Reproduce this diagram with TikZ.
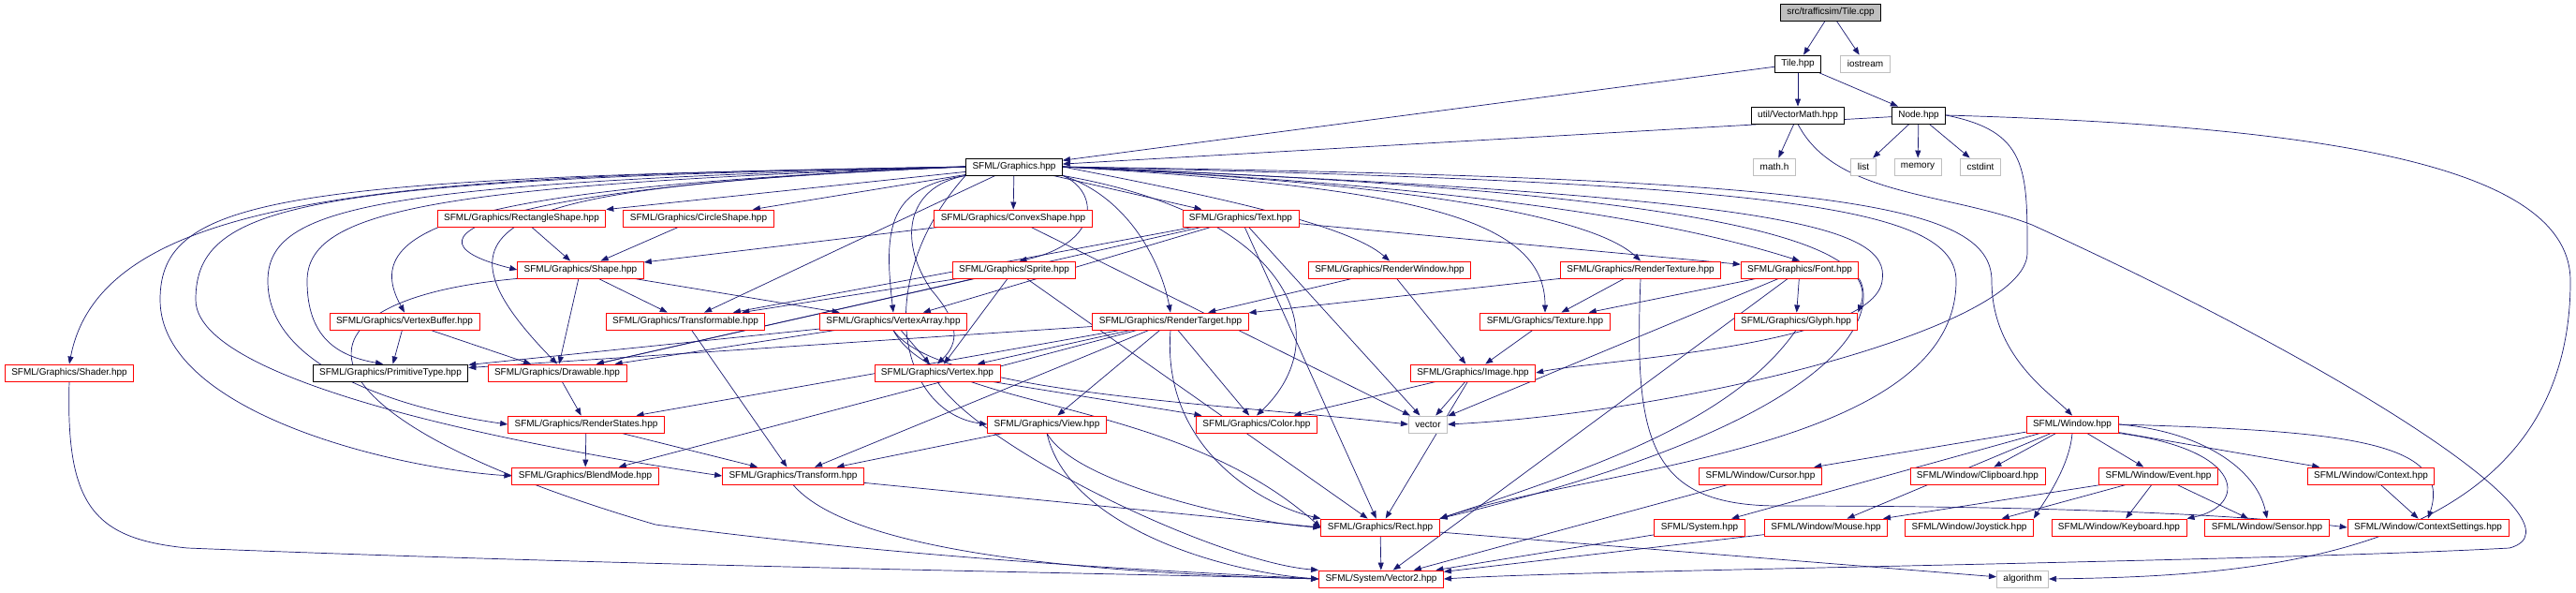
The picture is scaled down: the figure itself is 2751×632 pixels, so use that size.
\documentclass[tikz,border=0pt]{standalone}
\usepackage{fontspec}
\setmainfont{Liberation Sans}
\usetikzlibrary{arrows.meta,backgrounds}
\definecolor{edgeblue}{HTML}{191970}
\definecolor{sysgray}{HTML}{BFBFBF}

\begin{document}
\begin{tikzpicture}[x=1pt, y=-1pt,
    file/.style={draw=red, fill=white, line width=0.9pt, font=\fontsize{10}{12}\selectfont,
        inner xsep=7pt, inner ysep=0pt, minimum height=18pt},
    docfile/.style={file, draw=black},
    sysfile/.style={file, draw=sysgray},
    rootfile/.style={file, draw=black, fill=sysgray},
    inc/.style={draw=edgeblue, line width=0.7pt, -{Triangle[length=8pt, width=6pt]}}]
    \useasboundingbox (0,0) rectangle (2751,632);

    % Nodes
    \node[rootfile] (tilecpp) at (1955,13) {src/trafficsim/Tile.cpp};

    \node[docfile] (tilehpp) at (1920,68) {Tile.hpp};
    \node[sysfile] (iostream) at (1992,68) {iostream};

    \node[docfile] (vecmath) at (1920,123) {util/VectorMath.hpp};
    \node[docfile] (nodehpp) at (2049,123) {Node.hpp};

    \node[docfile] (graphics) at (1083,178) {SFML/Graphics.hpp};
    \node[sysfile] (mathh) at (1895,178) {math.h};
    \node[sysfile] (list) at (1990,178) {list};
    \node[sysfile] (memory) at (2048,178) {memory};
    \node[sysfile] (cstdint) at (2115,178) {cstdint};

    \node[file] (rectshape) at (557,233) {SFML/Graphics/RectangleShape.hpp};
    \node[file] (circshape) at (746,233) {SFML/Graphics/CircleShape.hpp};
    \node[file] (convshape) at (1082,233) {SFML/Graphics/ConvexShape.hpp};
    \node[file] (text) at (1325,233) {SFML/Graphics/Text.hpp};

    \node[file] (shape) at (620,288) {SFML/Graphics/Shape.hpp};
    \node[file] (sprite) at (1083,288) {SFML/Graphics/Sprite.hpp};
    \node[file] (renderwin) at (1484,288) {SFML/Graphics/RenderWindow.hpp};
    \node[file] (rendertex) at (1752,288) {SFML/Graphics/RenderTexture.hpp};
    \node[file] (font) at (1922,288) {SFML/Graphics/Font.hpp};

    \node[file] (vbuffer) at (432,343) {SFML/Graphics/VertexBuffer.hpp};
    \node[file] (transfable) at (732,343) {SFML/Graphics/Transformable.hpp};
    \node[file] (varray) at (954,343) {SFML/Graphics/VertexArray.hpp};
    \node[file] (rtarget) at (1250,343) {SFML/Graphics/RenderTarget.hpp};
    \node[file] (texture) at (1650,343) {SFML/Graphics/Texture.hpp};
    \node[file] (glyph) at (1918,343) {SFML/Graphics/Glyph.hpp};

    \node[file] (shader) at (74,398) {SFML/Graphics/Shader.hpp};
    \node[docfile] (primtype) at (417,398) {SFML/Graphics/PrimitiveType.hpp};
    \node[file] (drawable) at (595,398) {SFML/Graphics/Drawable.hpp};
    \node[file] (vertex) at (1001,398) {SFML/Graphics/Vertex.hpp};
    \node[file] (image) at (1573,398) {SFML/Graphics/Image.hpp};

    \node[file] (rstates) at (626,453) {SFML/Graphics/RenderStates.hpp};
    \node[file] (view) at (1118,453) {SFML/Graphics/View.hpp};
    \node[file] (color) at (1342,453) {SFML/Graphics/Color.hpp};
    \node[sysfile] (vector) at (1525,453) {vector};
    \node[file] (window) at (2213,453) {SFML/Window.hpp};

    \node[file] (blend) at (625,508) {SFML/Graphics/BlendMode.hpp};
    \node[file] (transform) at (847,508) {SFML/Graphics/Transform.hpp};
    \node[file] (cursor) at (1880,508) {SFML/Window/Cursor.hpp};
    \node[file] (clipboard) at (2112,508) {SFML/Window/Clipboard.hpp};
    \node[file] (event) at (2305,508) {SFML/Window/Event.hpp};
    \node[file] (context) at (2532,508) {SFML/Window/Context.hpp};

    \node[file] (rect) at (1474,563) {SFML/Graphics/Rect.hpp};
    \node[file] (system) at (1815,563) {SFML/System.hpp};
    \node[file] (mouse) at (1950,563) {SFML/Window/Mouse.hpp};
    \node[file] (joystick) at (2103,563) {SFML/Window/Joystick.hpp};
    \node[file] (keyboard) at (2263,563) {SFML/Window/Keyboard.hpp};
    \node[file] (sensor) at (2421,563) {SFML/Window/Sensor.hpp};
    \node[file] (ctxset) at (2593,563) {SFML/Window/ContextSettings.hpp};

    \node[file] (vector2) at (1475,618) {SFML/System/Vector2.hpp};
    \node[sysfile] (algorithm) at (2160,618) {algorithm};

    \begin{scope}[on background layer]
    % Tile.cpp, Tile.hpp, Node.hpp, VectorMath.hpp
    \draw[inc] (tilecpp) -- (tilehpp);
    \draw[inc] (tilecpp) -- (iostream);
    \draw[inc] (tilehpp) -- (graphics);
    \draw[inc] (tilehpp) -- (vecmath);
    \draw[inc] (tilehpp) -- (nodehpp);
    \draw[inc] (vecmath) -- (mathh);
    \draw[inc] (vecmath.south) .. controls (1960,210) and (2080,205) .. (2170,240)
        .. controls (2500,390) and (2770,560) .. (2680,585)
        .. controls (2400,600) and (1700,608) .. (vector2.east);
    \draw[inc] (nodehpp) -- (graphics);
    \draw[inc] (nodehpp) -- (list);
    \draw[inc] (nodehpp) -- (memory);
    \draw[inc] (nodehpp) -- (cstdint);
    \draw[inc] (nodehpp.east) .. controls (2165,140) and (2165,180) .. (2165,270)
        .. controls (2165,350) and (1800,440) .. (vector.east);
    \draw[inc] (nodehpp.east) .. controls (2500,135) and (2745,180) .. (2745,300)
        .. controls (2745,600) and (2400,615) .. (algorithm.east);

    % SFML/Graphics.hpp
    \draw[inc] (graphics.west) .. controls (450,188) and (110,200) .. (shader.north);
    \draw[inc] (graphics.west) .. controls (300,190) and (171,210) .. (171,320)
        .. controls (171,440) and (420,500) .. (blend.west);
    \draw[inc] (graphics.west) .. controls (330,192) and (209,215) .. (209,320)
        .. controls (209,420) and (650,490) .. (transform.west);
    \draw[inc] (graphics.west) .. controls (400,195) and (286,220) .. (286,300)
        .. controls (286,400) and (450,440) .. (rstates.west);
    \draw[inc] (graphics.west) .. controls (460,197) and (328,225) .. (328,300)
        .. controls (328,360) and (360,380) .. (primtype.130);
    \draw[inc] (graphics.west) .. controls (500,200) and (380,240) .. (vbuffer.north);
    \draw[inc] (graphics.west) .. controls (540,200) and (440,230) .. (drawable.north);
    \draw[inc] (graphics.west) .. controls (560,196) and (400,250) .. (shape.west);
    \draw[inc] (graphics) -- (rectshape);
    \draw[inc] (graphics) -- (circshape);
    \draw[inc] (graphics) -- (convshape);
    \draw[inc] (graphics) -- (text);
    \draw[inc] (graphics) -- (transfable);
    \draw[inc] (graphics.south west) .. controls (950,200) and (943,240) .. (varray.north);
    \draw[inc] (graphics.south east) .. controls (1205,210) and (1240,280) .. (rtarget.north);
    \draw[inc] (graphics.south east) .. controls (1175,205) and (1175,260) .. (sprite.60);
    \draw[inc] (graphics.south west) .. controls (965,200) and (960,260) .. (995,310)
        .. controls (1030,350) and (1020,370) .. (vertex.north);
    \draw[inc] (graphics.south west) .. controls (930,300) and (960,440) .. (view.west);
    \draw[inc] (graphics.south east) .. controls (1380,230) and (1430,360) .. (color.north);
    \draw[inc] (graphics.east) .. controls (1300,210) and (1440,240) .. (renderwin.north);
    \draw[inc] (graphics.east) .. controls (1500,200) and (1650,230) .. (texture.north);
    \draw[inc] (graphics.east) .. controls (1500,195) and (1700,230) .. (rendertex.north);
    \draw[inc] (graphics.east) .. controls (1600,200) and (1800,240) .. (font.north);
    \draw[inc] (graphics.east) .. controls (1850,205) and (2010,260) .. (glyph.north east);
    \draw[inc] (graphics.east) .. controls (1900,210) and (2020,240) .. (2010,300)
        .. controls (2000,370) and (1700,385) .. (image.east);
    \draw[inc] (graphics.east) .. controls (1900,195) and (2089,220) .. (2089,300)
        .. controls (2089,480) and (1700,500) .. (rect.north east);
    \draw[inc] (graphics.east) .. controls (1950,190) and (2127,215) .. (2127,300)
        .. controls (2127,380) and (2190,420) .. (window.north);

    % shapes, text, sprite
    \draw[inc] (rectshape) -- (shape);
    \draw[inc] (circshape) -- (shape);
    \draw[inc] (convshape) -- (shape);
    \draw[inc] (convshape) -- (vector);
    \draw[inc] (shape) -- (drawable);
    \draw[inc] (shape) -- (transfable);
    \draw[inc] (shape) -- (varray);
    \draw[inc] (shape.south west) .. controls (300,320) and (290,440) .. (700,560)
        .. controls (1000,600) and (1300,612) .. (vector2.west);
    \draw[inc] (text) -- (drawable);
    \draw[inc] (text) -- (transfable);
    \draw[inc] (text) -- (font);
    \draw[inc] (text) -- (rect);
    \draw[inc] (text) -- (varray);
    \draw[inc] (text) -- (vector);
    \draw[inc] (sprite) -- (drawable);
    \draw[inc] (sprite) -- (transfable);
    \draw[inc] (sprite) -- (vertex);
    \draw[inc] (sprite) -- (rect);

    % render window, render texture, font
    \draw[inc] (renderwin) -- (rtarget);
    \draw[inc] (renderwin) -- (image);
    \draw[inc] (rendertex) -- (texture);
    \draw[inc] (rendertex) -- (rtarget);
    \draw[inc] (rendertex.south) .. controls (1745,470) and (1760,540) .. (1900,540)
        .. controls (2200,540) and (2400,550) .. (ctxset.west);
    \draw[inc] (font) -- (glyph);
    \draw[inc] (font) -- (texture);
    \draw[inc] (font) -- (vector);
    \draw[inc] (font) -- (vector2);
    \draw[inc] (font.south east) .. controls (2000,320) and (2010,440) .. (rect.north east);

    % vertex buffer, vertex array, render target
    \draw[inc] (vbuffer) -- (primtype);
    \draw[inc] (vbuffer) -- (drawable);
    \draw[inc] (transfable) -- (transform);
    \draw[inc] (varray) -- (vertex);
    \draw[inc] (varray) -- (primtype);
    \draw[inc] (varray) -- (drawable);
    \draw[inc] (varray.south) .. controls (1000,440) and (1250,420) .. (rect.west);
    \draw[inc] (varray.south) .. controls (1000,420) and (1300,430) .. (vector.west);
    \draw[inc] (rtarget) -- (color);
    \draw[inc] (rtarget) -- (view);
    \draw[inc] (rtarget) -- (transform);
    \draw[inc] (rtarget) -- (blend);
    \draw[inc] (rtarget) -- (rstates);
    \draw[inc] (rtarget) -- (primtype);
    \draw[inc] (rtarget) -- (vertex);
    \draw[inc] (rtarget.south) .. controls (1240,480) and (1350,540) .. (rect.north west);
    \draw[inc] (texture) -- (image);
    \draw[inc] (glyph.south) .. controls (1850,450) and (1700,500) .. (rect.north east);

    % lower graphics headers
    \draw[inc] (shader.south) .. controls (70,540) and (100,575) .. (200,585)
        .. controls (700,605) and (1200,612) .. (vector2.west);
    \draw[inc] (drawable) -- (rstates);
    \draw[inc] (vertex) -- (color);
    \draw[inc] (vertex.south) .. controls (1050,480) and (1300,600) .. (vector2.north west);
    \draw[inc] (image) -- (color);
    \draw[inc] (image) -- (rect);
    \draw[inc] (image) -- (vector);
    \draw[inc] (rstates) -- (blend);
    \draw[inc] (rstates) -- (transform);
    \draw[inc] (view) -- (transform);
    \draw[inc] (view.south) .. controls (1150,520) and (1350,560) .. (rect.west);
    \draw[inc] (view.south) .. controls (1140,560) and (1300,610) .. (vector2.west);
    \draw[inc] (transform) -- (rect.west);
    \draw[inc] (transform.south) .. controls (900,580) and (1100,610) .. (vector2.west);

    % SFML/Window.hpp
    \draw[inc] (window) -- (cursor);
    \draw[inc] (window) -- (system);
    \draw[inc] (window) -- (mouse);
    \draw[inc] (window) -- (clipboard);
    \draw[inc] (window) -- (event);
    \draw[inc] (window) -- (context);
    \draw[inc] (window.south) .. controls (2210,500) and (2180,540) .. (joystick.north east);
    \draw[inc] (window.south east) .. controls (2400,480) and (2400,540) .. (keyboard.north east);
    \draw[inc] (window.east) .. controls (2350,460) and (2410,500) .. (sensor.north);
    \draw[inc] (window.east) .. controls (2500,460) and (2620,470) .. (ctxset.north);
    \draw[inc] (event) -- (joystick);
    \draw[inc] (event) -- (keyboard);
    \draw[inc] (event) -- (mouse);
    \draw[inc] (event) -- (sensor);
    \draw[inc] (context) -- (ctxset);

    % bottom
    \draw[inc] (cursor) -- (vector2);
    \draw[inc] (system) -- (vector2);
    \draw[inc] (mouse) -- (vector2);
    \draw[inc] (rect) -- (vector2);
    \draw[inc] (rect) -- (algorithm);
    \end{scope}
\end{tikzpicture}
\end{document}
